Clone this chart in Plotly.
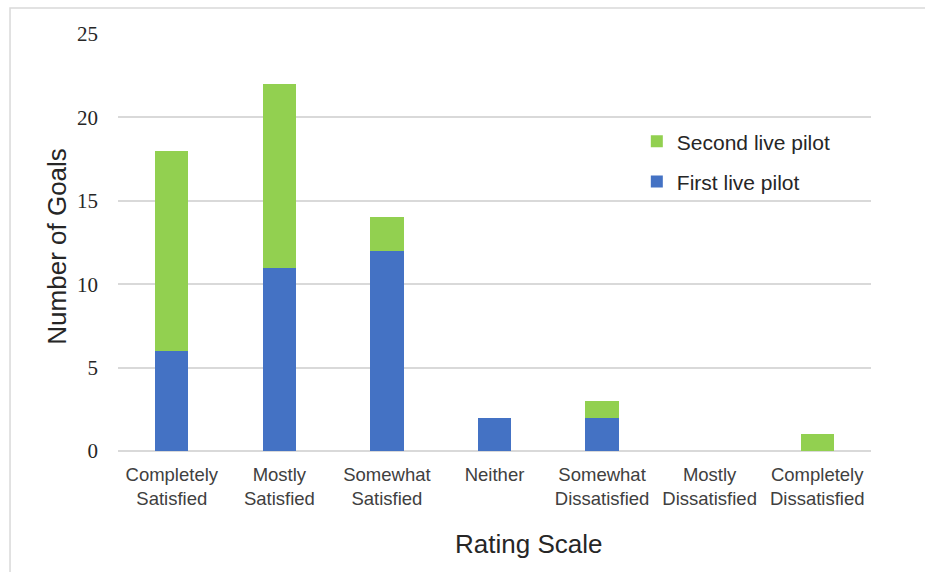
import plotly.graph_objects as go

categories = ["Completely<br>Satisfied", "Mostly<br>Satisfied", "Somewhat<br>Satisfied",
              "Neither", "Somewhat<br>Dissatisfied", "Mostly<br>Dissatisfied",
              "Completely<br>Dissatisfied"]
first_pilot = [6, 11, 12, 2, 2, 0, 0]
second_pilot = [12, 11, 2, 0, 1, 0, 1]
y_ticks = [0, 5, 10, 15, 20, 25]

BLUE = "#4472C4"
GREEN = "#92D050"
GRID = "#d9d9d9"
SANS = "Liberation Sans, Arial"

fig = go.Figure()
fig.add_trace(go.Bar(x=categories, y=first_pilot, name="First live pilot",
                     marker=dict(color=BLUE, line=dict(width=0)),
                     legendgroup="a", legendrank=2))
fig.add_trace(go.Bar(x=categories, y=second_pilot, name="Second live pilot",
                     marker=dict(color=GREEN, line=dict(width=0)),
                     legendgroup="b", legendrank=1))

fig.update_layout(
    width=925, height=572,
    barmode="stack", bargap=0.69,
    plot_bgcolor="white", paper_bgcolor="white",
    margin=dict(l=118, r=54, t=34, b=121),
    showlegend=True,
    legend=dict(x=0.689, y=0.791, xanchor="left", yanchor="top",
                traceorder="grouped", tracegroupgap=10,
                font=dict(family=SANS, size=21, color="#262626"),
                itemwidth=30, bgcolor="rgba(0,0,0,0)"),
    xaxis=dict(showgrid=False, showline=False, ticks="", ticklabelstandoff=10,
               tickfont=dict(family=SANS, size=18.5, color="#404040")),
    yaxis=dict(range=[0, 25], tickvals=y_ticks, showgrid=True, gridcolor=GRID, gridwidth=1.5,
               zeroline=True, zerolinecolor=GRID, zerolinewidth=1.5, showline=False,
               ticks="", ticklabelstandoff=19,
               tickfont=dict(family="Liberation Serif, Times New Roman", size=21, color="#262626")),
    annotations=[
        dict(text="Rating Scale", xref="paper", yref="paper", x=0.545, y=-0.222,
             showarrow=False, xanchor="center", yanchor="middle",
             font=dict(family=SANS, size=26, color="#262626")),
        dict(text="Number of Goals", xref="paper", yref="paper", x=-0.081, y=0.49,
             showarrow=False, xanchor="center", yanchor="middle", textangle=-90,
             font=dict(family=SANS, size=26, color="#262626")),
    ],
    shapes=[
        dict(type="rect", xref="paper", yref="paper", x0=-0.1434, x1=1.2, y0=-0.5, y1=1.0624,
             line=dict(color=GRID, width=1.5), fillcolor="rgba(0,0,0,0)", layer="below"),
    ],
)

fig.write_html("out.html")
